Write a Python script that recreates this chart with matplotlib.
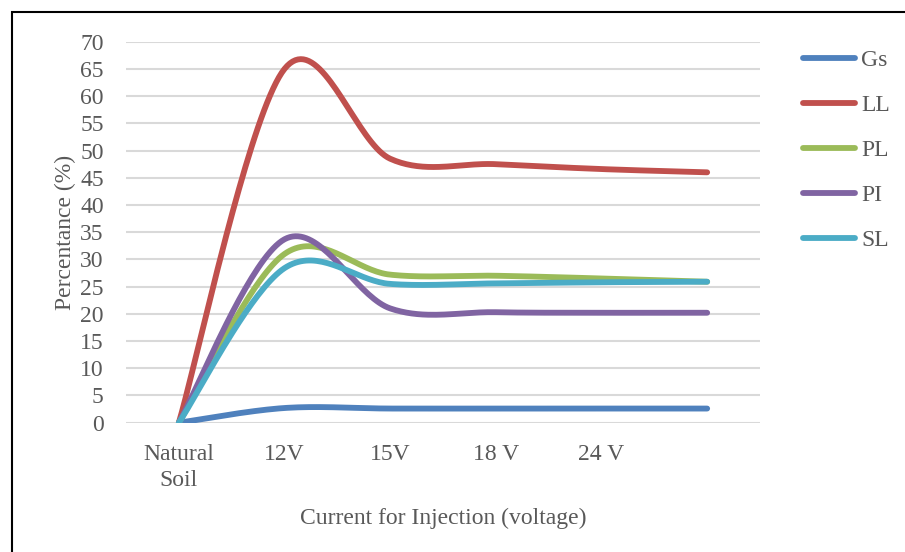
import matplotlib
matplotlib.use("Agg")
import matplotlib.pyplot as plt
import matplotlib.patches as patches
import numpy as np

# categories along the x axis (last one has no label in the original)
categories = ["Natural\nSoil", "12V", "15V", "18 V", "24 V", ""]

# series values (%)
gs = [0, 2.7, 2.6, 2.6, 2.6, 2.6]
ll = [0, 65.0, 48.5, 47.5, 46.6, 46.0]
pl = [0, 31.0, 27.2, 27.0, 26.5, 25.9]
pi = [0, 33.7, 21.0, 20.3, 20.2, 20.2]
sl = [0, 28.4, 25.5, 25.6, 25.8, 25.9]

series_names = ["Gs", "LL", "PL", "PI", "SL"]
series_colors = ["#4F81BD", "#C0504D", "#9BBB59", "#8064A2", "#4BACC6"]


def smooth(ys, n=40):
    # Excel style smoothed line (Catmull-Rom bezier through the points)
    xs = np.arange(len(ys), dtype=float)
    ys = np.asarray(ys, dtype=float)
    px = np.concatenate([[xs[0]], xs, [xs[-1]]])
    py = np.concatenate([[ys[0]], ys, [ys[-1]]])
    out_x, out_y = [], []
    t = np.linspace(0, 1, n)
    for i in range(1, len(px) - 2):
        p0 = np.array([px[i], py[i]])
        p1 = np.array([px[i + 1], py[i + 1]])
        c1 = p0 + (p1 - np.array([px[i - 1], py[i - 1]])) / 6
        c2 = p1 - (np.array([px[i + 2], py[i + 2]]) - p0) / 6
        b = ((1 - t) ** 3)[:, None] * p0 + (3 * (1 - t) ** 2 * t)[:, None] * c1 \
            + (3 * (1 - t) * t ** 2)[:, None] * c2 + (t ** 3)[:, None] * p1
        out_x.extend(b[:, 0])
        out_y.extend(b[:, 1])
    return np.array(out_x), np.array(out_y)


plt.rcParams['font.family'] = ['Liberation Serif', 'DejaVu Serif']
text_color = "#595959"
fs = 17

fig = plt.figure(figsize=(9.05, 5.52), dpi=100)
ax = fig.add_axes([126 / 905, 1 - 422.7 / 552, 634 / 905, 381 / 552])

for name, vals, col in zip(series_names, [gs, ll, pl, pi, sl], series_colors):
    sx, sy = smooth(vals)
    ax.plot(sx, sy, color=col, lw=4.2, solid_capstyle='round', label=name)

ax.set_xlim(-0.5, len(categories) - 0.5)
ax.set_ylim(0, 70)
ax.set_yticks(np.arange(0, 71, 5))
ax.set_xticks(range(len(categories)))
ax.set_xticklabels(categories, linespacing=1.35)
ax.tick_params(length=0, labelsize=fs, colors=text_color)
ax.tick_params(axis='y', pad=16)
ax.tick_params(axis='x', pad=15)
ax.grid(axis='y', color="#D9D9D9", lw=1.5)
ax.set_axisbelow(True)
for s in ax.spines.values():
    s.set_visible(False)

ax.set_xlabel("Current for Injection (voltage)", fontsize=fs, color=text_color, labelpad=12)
ax.set_ylabel("Percentance (%)", fontsize=fs, color=text_color, labelpad=3)

leg = ax.legend(loc='upper left', bbox_to_anchor=(782 / 905, 1 - 28 / 552),
                bbox_transform=fig.transFigure, frameon=False, fontsize=fs,
                handlelength=2.2, handletextpad=0.25, labelspacing=1.0)
for t in leg.get_texts():
    t.set_color(text_color)

# outer chart border (cropped on the right and bottom)
fig.patches.append(patches.Rectangle((12 / 905, -0.1), 1.2, 1 - 12 / 552 + 0.1,
                                     transform=fig.transFigure, fill=False,
                                     edgecolor="black", lw=1.5))

fig.savefig("out.png", dpi=100)
